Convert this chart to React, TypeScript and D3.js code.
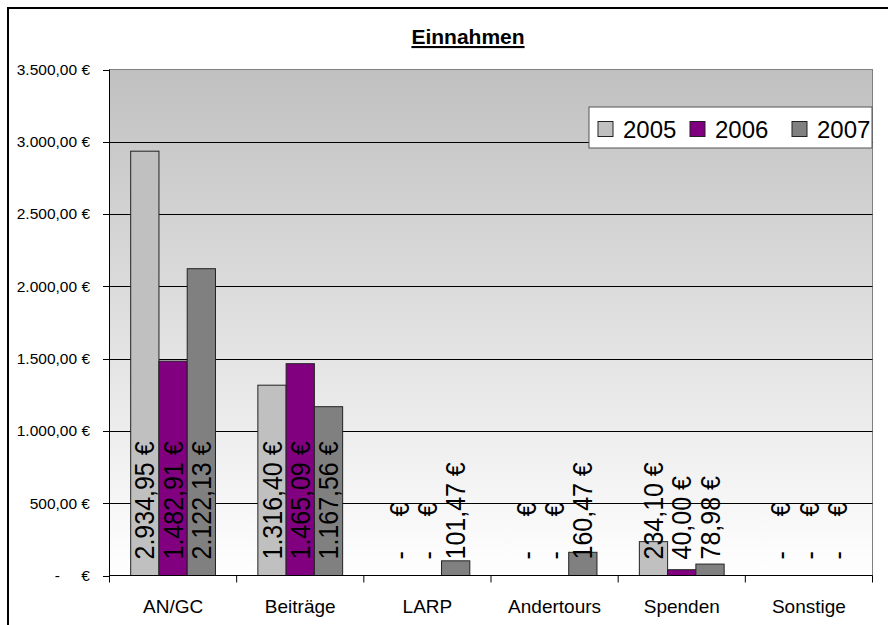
import React from "react";
import * as d3 from "d3";

const categories = ["AN/GC", "Beiträge", "LARP", "Andertours", "Spenden", "Sonstige"];
const years = ["2005", "2006", "2007"];
const values2005 = [2934.95, 1316.4, 0, 0, 234.1, 0];
const values2006 = [1482.91, 1465.09, 0, 0, 40.0, 0];
const values2007 = [2122.13, 1167.56, 101.47, 160.47, 78.98, 0];
const yTicks = [0, 500, 1000, 1500, 2000, 2500, 3000, 3500];

const seriesValues = [values2005, values2006, values2007];
const colors = ["#c0c0c0", "#800080", "#808080"];
const FONT = "'Liberation Sans', Arial, Helvetica, sans-serif";

const locale = d3.formatLocale({ decimal: ",", thousands: ".", grouping: [3], currency: ["", " €"] });
const fmt = locale.format("$,.2f");
const euro = (v: number) => (v === 0 ? "-     €" : fmt(v));

const W = 888;
const H = 625;
const plot = { left: 109.5, right: 872.5, top: 69.5, bottom: 575.5 };

const App: React.FC = () => {
  const x = d3.scaleBand<string>().domain(categories).range([plot.left, plot.right]);
  const xs = d3.scaleBand<string>().domain(years).range([0, x.bandwidth()]).paddingOuter(0.75);
  const y = d3.scaleLinear().domain([0, 3500]).range([plot.bottom, plot.top]);

  const bars = categories.flatMap((c, ci) =>
    years.map((yr, si) => ({ c, yr, si, v: seriesValues[si][ci] }))
  );

  // legend layout
  const lg = { x: 589, y: 107, w: 283, h: 41 };
  const legendX = [598, 690, 792];

  return (
    <svg width={W} height={H} style={{ position: "absolute", left: 0, top: 0, fontFamily: FONT }}>
      <defs>
        <linearGradient id="bg" x1="0" y1="0" x2="0" y2="1">
          <stop offset="0" stopColor="#c0c0c0" />
          <stop offset="1" stopColor="#ffffff" />
        </linearGradient>
      </defs>
      <rect x={0} y={0} width={W} height={H} fill="#fff" />
      <rect x={8} y={8} width={1000} height={1000} fill="none" stroke="#000" strokeWidth={2} />

      <text x={468} y={44} textAnchor="middle" fontSize={21} fontWeight="bold" textDecoration="underline">
        Einnahmen
      </text>

      {/* plot background */}
      <rect x={plot.left} y={plot.top} width={plot.right - plot.left} height={plot.bottom - plot.top} fill="url(#bg)" stroke="#808080" strokeWidth={1} />

      {/* grid */}
      {yTicks.filter(t => t > 0 && t < 3500).map(t => (
        <line key={t} x1={plot.left} x2={plot.right} y1={Math.round(y(t)) + 0.5} y2={Math.round(y(t)) + 0.5} stroke="#000" strokeWidth={1} />
      ))}

      {/* bars */}
      {bars.map(b => (
        <rect
          key={b.c + b.yr}
          x={x(b.c)! + xs(b.yr)!}
          y={y(b.v)}
          width={xs.bandwidth()}
          height={plot.bottom - y(b.v)}
          fill={colors[b.si]}
          stroke="#222"
          strokeWidth={1}
        />
      ))}

      {/* axes */}
      <line x1={plot.left} x2={plot.left} y1={plot.top} y2={plot.bottom + 7} stroke="#000" />
      <line x1={plot.left} x2={plot.right} y1={plot.bottom} y2={plot.bottom} stroke="#000" />
      {yTicks.map(t => (
        <g key={t}>
          <line x1={plot.left - 6.5} x2={plot.left} y1={Math.round(y(t)) + 0.5} y2={Math.round(y(t)) + 0.5} stroke="#000" />
          <text x={90} y={y(t)} dy="0.35em" textAnchor="end" fontSize={15.5} style={{ whiteSpace: "pre" }}>
            {euro(t)}
          </text>
        </g>
      ))}
      {categories.map((c, i) => (
        <g key={c}>
          {i > 0 && <line x1={x(c)!} x2={x(c)!} y1={plot.bottom} y2={plot.bottom + 7} stroke="#000" />}
          <text x={x(c)! + x.bandwidth() / 2} y={613} textAnchor="middle" fontSize={19}>
            {c}
          </text>
        </g>
      ))}
      <line x1={plot.right} x2={plot.right} y1={plot.bottom} y2={plot.bottom + 7} stroke="#000" />

      {/* data labels (rotated, slightly taller glyphs like the original) */}
      {bars.map(b => {
        const cx = x(b.c)! + xs(b.yr)! + xs.bandwidth() / 2;
        const cy = y(0) - 16;
        return (
          <text
            key={"l" + b.c + b.yr}
            x={0}
            y={0}
            dy="0.35em"
            fontSize={25}
            transform={`translate(${cx}, ${cy}) rotate(-90) scale(1, 1.1)`}
            style={{ whiteSpace: "pre" }}
          >
            {euro(b.v)}
          </text>
        );
      })}

      {/* legend */}
      <rect x={lg.x} y={lg.y} width={lg.w} height={lg.h} fill="#fff" stroke="#555" strokeWidth={1} />
      {years.map((yr, i) => (
        <g key={yr}>
          <rect x={legendX[i]} y={121.5} width={15} height={15} fill={colors[i]} stroke="#222" />
          <text x={legendX[i] + 25} y={137.5} fontSize={24}>
            {yr}
          </text>
        </g>
      ))}
    </svg>
  );
};

export default App;
